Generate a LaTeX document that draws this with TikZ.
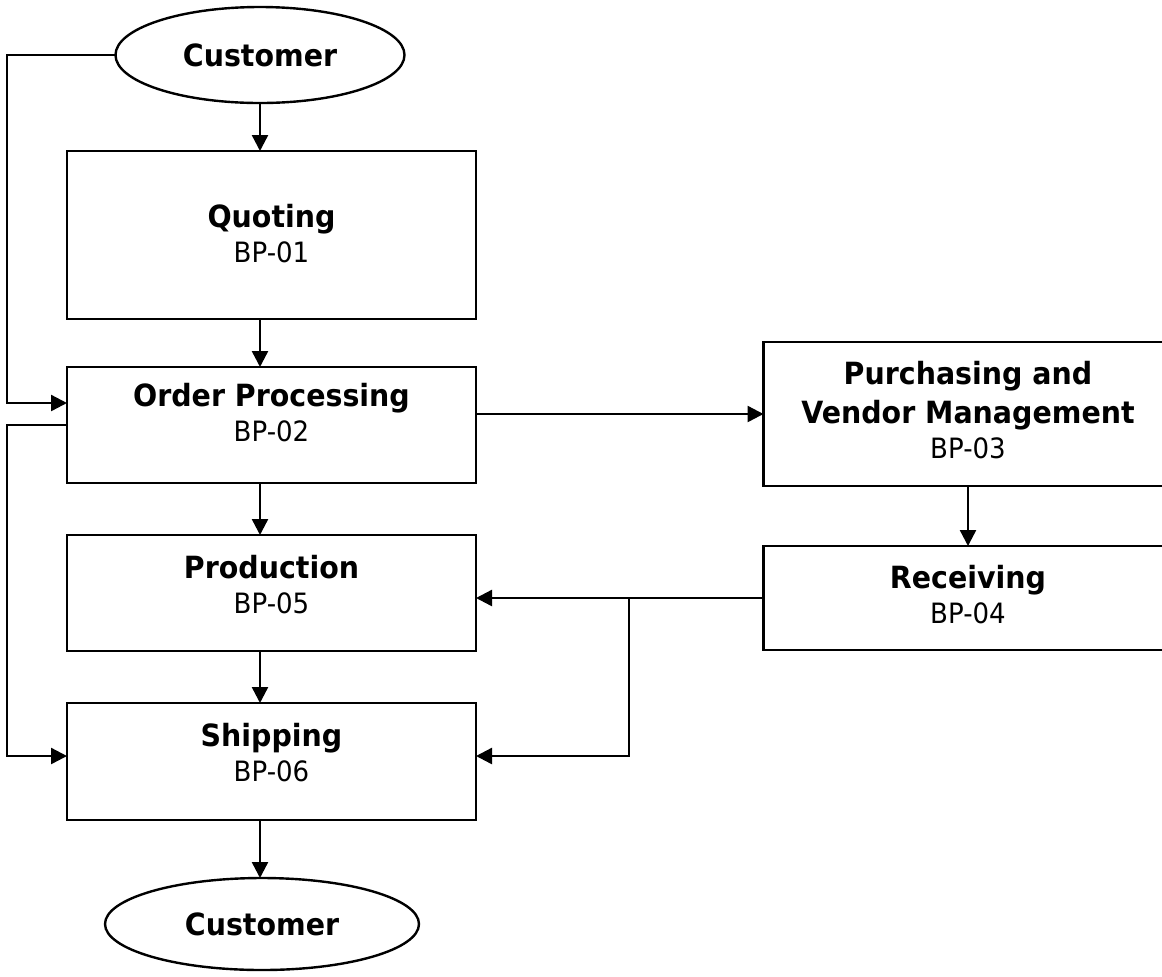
\documentclass[tikz,border=0pt]{standalone}
\usepackage{fontspec}
\setmainfont[FakeStretch=0.93]{DejaVu Sans}
\usetikzlibrary{shapes.geometric,arrows.meta}

\newcommand{\bptitle}{\fontsize{15.3}{19.5}\selectfont\bfseries}
\newcommand{\bpcode}{\fontsize{14}{17.5}\selectfont}

\begin{document}
\begin{tikzpicture}[x=0.5pt,y=-0.5pt,
    line width=1.2pt,
    bpbox/.style={draw,rectangle,anchor=north,align=center,font=\bpcode,
        minimum width=204.5pt,inner xsep=0pt,inner ysep=0pt,outer sep=0pt},
    custnode/.style={draw,ellipse,inner sep=0pt,outer sep=0pt,font=\bptitle},
    flow/.style={-{Triangle[length=8pt,width=8pt]}}]
                    \clip (0,0) rectangle (1162,976);

                    \node[custnode,minimum width=144.5pt,minimum height=48pt] (cust1) at (260,55) {Customer};
                    \node[bpbox,text height=55.5pt,text depth=28.5pt] (quot) at (271.5,151) {{\bptitle Quoting}\\BP-01};
                    \node[bpbox,text height=37pt,text depth=21pt] (order) at (271.5,367) {{\bptitle Order Processing}\\BP-02};
                    \node[bpbox,text height=39pt,text depth=19pt] (prod) at (271.5,535) {{\bptitle Production}\\BP-05};
                    \node[bpbox,text height=39pt,text depth=19.5pt] (ship) at (271.5,703) {{\bptitle Shipping}\\BP-06};
                    \node[custnode,minimum width=157pt,minimum height=46pt] (cust2) at (262,924) {Customer};

                    \node[bpbox,text height=58pt,text depth=14pt] (purch) at (968,342) {{\bptitle Purchasing and}\\[2pt]{\bptitle Vendor Management}\\BP-03};
                    \node[bpbox,text height=38.5pt,text depth=13.5pt] (rcv) at (968,546) {{\bptitle Receiving}\\BP-04};

                    \coordinate (lrail) at (7,0);
                    \coordinate (split) at (629,598);

                    \draw[flow] (cust1.south) -- (cust1.south |- quot.north);
                    \draw[flow] (cust1.south |- quot.south) -- (cust1.south |- order.north);
                    \draw[flow] (cust1.south |- order.south) -- (cust1.south |- prod.north);
                    \draw[flow] (cust1.south |- prod.south) -- (cust1.south |- ship.north);
                    \draw[flow] (cust1.south |- ship.south) -- (cust1.south |- cust2.north);

                    \draw[flow] (order.east |- purch.west) -- (purch.west);
                    \draw[flow] (purch.south) -- (rcv.north);
                    \draw[flow] (rcv.west) -- (prod.east |- rcv.west);
                    \draw[flow] (split) |- ([yshift=2.75pt]ship.east);

                    \draw[flow] (cust1.west) -- (cust1.west -| lrail) |- ([yshift=11pt]order.west);
                    \draw[flow] (order.west) -- (order.west -| lrail) |- ([yshift=2.75pt]ship.west);
\end{tikzpicture}
\end{document}
